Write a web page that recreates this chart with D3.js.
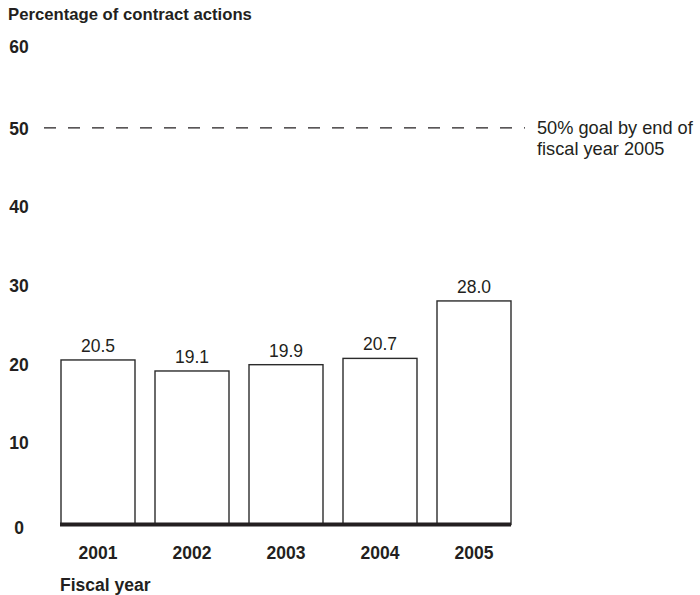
<!DOCTYPE html>
<html>
<head>
<meta charset="utf-8">
<script src="https://cdn.jsdelivr.net/npm/d3@7"></script>
<style>
  html, body { margin: 0; padding: 0; background: #fff; }
  text { font-family: "Liberation Sans", Arial, Helvetica, sans-serif; fill: #231f20; }
</style>
</head>
<body>
<svg id="chart" width="700" height="595"></svg>
<script>
// Share of contract actions by fiscal year
const years = ["2001", "2002", "2003", "2004", "2005"];
const values = [20.5, 19.1, 19.9, 20.7, 28.0];
const yTicks = [0, 10, 20, 30, 40, 50, 60];
const goalValue = 50;
const goalLabel = ["50% goal by end of", "fiscal year 2005"];
const yTitle = "Percentage of contract actions";
const xTitle = "Fiscal year";

const svg = d3.select("#chart");

const x = d3.scaleBand().domain(years).range([51, 521]).paddingInner(0.2128).paddingOuter(0.1064);
const y = d3.scaleLinear().domain([0, 60]).range([521.3, 49.1]);
const baseY = y(0) + 3.2;   // centre of the heavy baseline

// y-axis tick labels (no axis line)
const yAxis = d3.axisLeft(y).tickValues(yTicks).tickSize(0).tickPadding(0);
const gy = svg.append("g").attr("transform", "translate(19,0)").call(yAxis);
gy.select(".domain").remove();
gy.selectAll("text")
  .attr("text-anchor", "middle")
  .attr("x", 0)
  .attr("dy", "0.36em")
  .style("font-size", "17.5px")
  .style("font-weight", "bold")
  .style("font-family", "'Liberation Sans', Arial, sans-serif")
  .style("fill", "#231f20");
gy.selectAll("text").filter(d => d === 0).attr("dy", "0.7em");
gy.selectAll("text").filter(d => d === 60).attr("dy", "0.2em");

// y title
svg.append("text")
  .attr("x", 8).attr("y", 20)
  .style("font-size", "16.7px").style("font-weight", "bold")
  .text(yTitle);

// goal line
svg.append("line")
  .attr("x1", 44).attr("x2", 525)
  .attr("y1", y(goalValue)).attr("y2", y(goalValue))
  .attr("stroke", "#231f20").attr("stroke-width", 1.3)
  .attr("stroke-dasharray", "12,12");
svg.append("text")
  .attr("x", 537).attr("y", y(goalValue) + 6)
  .style("font-size", "18.2px")
  .selectAll("tspan").data(goalLabel).join("tspan")
  .attr("x", 537).attr("dy", (d, i) => i === 0 ? 0 : 21)
  .text(d => d);

// bars, running down into the baseline
svg.append("g").selectAll("rect").data(years).join("rect")
  .attr("x", d => x(d))
  .attr("y", (d, i) => y(values[i]))
  .attr("width", x.bandwidth())
  .attr("height", (d, i) => baseY - y(values[i]))
  .attr("fill", "#fff")
  .attr("stroke", "#2b2b2b")
  .attr("stroke-width", 1.4);

// value labels
svg.append("g").selectAll("text").data(years).join("text")
  .attr("x", d => x(d) + x.bandwidth() / 2)
  .attr("y", (d, i) => y(values[i]) - 8)
  .attr("text-anchor", "middle")
  .style("font-size", "17.5px")
  .text((d, i) => values[i].toFixed(1));

// baseline
svg.append("line")
  .attr("x1", 60).attr("x2", 511)
  .attr("y1", baseY).attr("y2", baseY)
  .attr("stroke", "#231f20").attr("stroke-width", 4);

// x-axis labels
const xAxis = d3.axisBottom(x).tickSize(0).tickPadding(0);
const gx = svg.append("g").attr("transform", "translate(0,559)").call(xAxis);
gx.select(".domain").remove();
gx.selectAll("text")
  .attr("dy", 0)
  .style("font-size", "17.5px")
  .style("font-weight", "bold")
  .style("font-family", "'Liberation Sans', Arial, sans-serif")
  .style("fill", "#231f20");

// x title
svg.append("text")
  .attr("x", 60).attr("y", 591)
  .style("font-size", "17.5px").style("font-weight", "bold")
  .text(xTitle);
</script>
</body>
</html>
